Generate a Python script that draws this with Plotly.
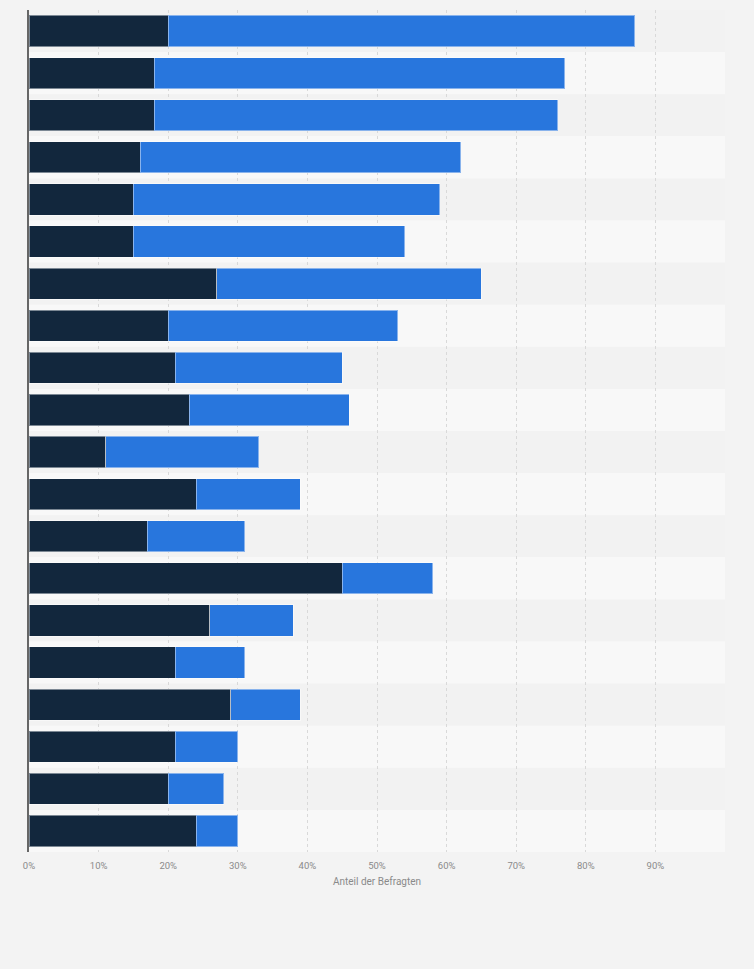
import plotly.graph_objects as go

categories = [str(i) for i in range(1, 21)]
dark_values = [20, 18, 18, 16, 15, 15, 27, 20, 21, 23, 11, 24, 17, 45, 26, 21, 29, 21, 20, 24]
blue_values = [67, 59, 58, 46, 44, 39, 38, 33, 24, 23, 22, 15, 14, 13, 12, 10, 10, 9, 8, 6]
tick_values = [0, 10, 20, 30, 40, 50, 60, 70, 80, 90, 100]
tick_labels = ["0%", "10%", "20%", "30%", "40%", "50%", "60%", "70%", "80%", "90%", ""]

fig = go.Figure()
fig.add_trace(go.Bar(
    y=categories, x=dark_values, orientation="h", name="A",
    marker=dict(color="#12273d", line=dict(color="rgba(255,255,255,0.45)", width=1)),
    hoverinfo="x",
))
fig.add_trace(go.Bar(
    y=categories, x=blue_values, orientation="h", name="B",
    marker=dict(color="#2876dd", line=dict(color="rgba(255,255,255,0.45)", width=1)),
    hoverinfo="x",
))

shapes = []
for i, c in enumerate(categories):
    shapes.append(dict(
        type="rect", xref="paper", yref="y",
        x0=0, x1=1, y0=i - 0.5, y1=i + 0.5,
        fillcolor="#f2f2f2" if i % 2 == 0 else "#f8f8f8",
        line=dict(width=0), layer="below",
    ))

fig.update_layout(
    barmode="stack",
    bargap=0.26,
    width=754, height=969,
    margin=dict(l=29, r=29, t=10, b=117),
    paper_bgcolor="#f3f3f3",
    plot_bgcolor="#f8f8f8",
    showlegend=False,
    shapes=shapes,
    font=dict(family="Roboto, Arial, sans-serif", color="#8a8a8a"),
    xaxis=dict(
        range=[0, 100], tickvals=tick_values, ticktext=tick_labels,
        showgrid=True, gridcolor="#d9d9d9", griddash="dot", gridwidth=1,
        zeroline=False, tickfont=dict(size=9.5, color="#8a8a8a"),
        ticks="", ticklabelstandoff=6,
        title=dict(text="Anteil der Befragten", font=dict(size=10, color="#8a8a8a"), standoff=8),
    ),
    yaxis=dict(
        autorange="reversed", showticklabels=False, showgrid=False,
        showline=True, linecolor="#666666", linewidth=1.5, ticks="",
        zeroline=False,
    ),
)

fig.write_html(
    "out.html",
    config={"displayModeBar": False},
    post_script="document.body.style.margin='0';document.body.style.background='#f3f3f3';",
)
